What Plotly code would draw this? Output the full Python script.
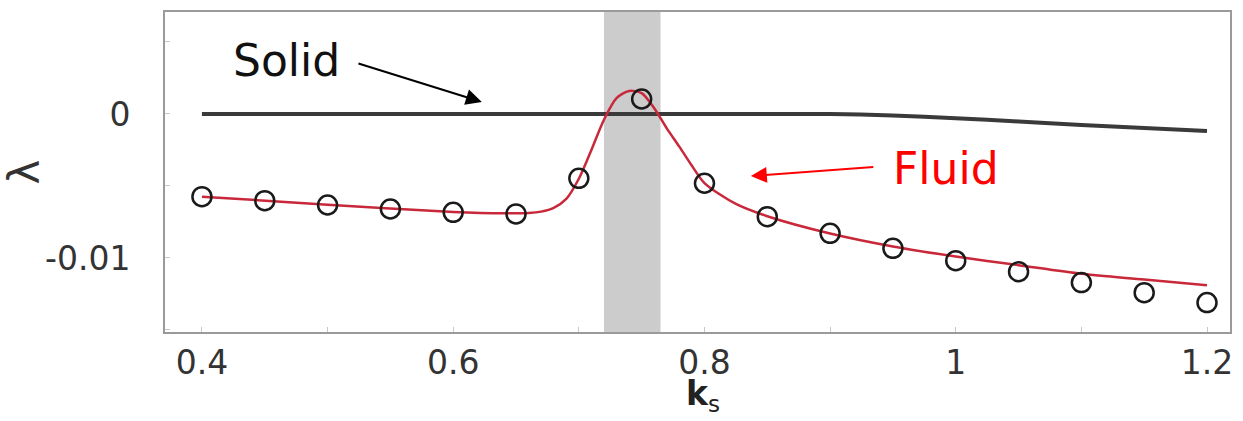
import plotly.graph_objects as go

# Growth rate lambda versus wavenumber k_s
k_sim = [0.40, 0.45, 0.50, 0.55, 0.60, 0.65, 0.70, 0.75, 0.80, 0.85,
         0.90, 0.95, 1.00, 1.05, 1.10, 1.15, 1.20]
lam_sim = [-0.00574, -0.00602, -0.00632, -0.00660, -0.00683, -0.00694,
           -0.00447, 0.00104, -0.00481, -0.00713, -0.00829, -0.00933,
           -0.01019, -0.01095, -0.01171, -0.01241, -0.01310]

# Fluid mode (theory curve)
k_fluid = [0.40, 0.50, 0.60, 0.64, 0.66, 0.67, 0.68, 0.69, 0.70, 0.71,
           0.72, 0.73, 0.74, 0.75, 0.76, 0.77, 0.78, 0.79, 0.80, 0.825,
           0.85, 0.90, 0.95, 1.00, 1.05, 1.10, 1.15, 1.20]
lam_fluid = [-0.00574, -0.00630, -0.00680, -0.00690, -0.00688, -0.00678,
             -0.00652, -0.00590, -0.00450, -0.00250, -0.00040, 0.00110,
             0.00160, 0.00145, 0.00040, -0.00100, -0.00227, -0.00360,
             -0.00480, -0.00625, -0.00710, -0.00830, -0.00920, -0.00990,
             -0.01050, -0.01110, -0.01150, -0.01190]

# Solid mode
k_solid = [0.40, 0.60, 0.80, 0.90, 0.95, 1.00, 1.05, 1.10, 1.15, 1.20]
lam_solid = [0.0, 0.0, 0.0, 0.0, -0.00010, -0.00030, -0.00052, -0.00076,
             -0.00097, -0.00118]

# Shaded resonance band
band = [0.720, 0.765]

x_ticks = [0.4, 0.6, 0.8, 1.0, 1.2]
x_tick_text = ["0.4", "0.6", "0.8", "1", "1.2"]
y_ticks = [0.0, -0.01]
y_tick_text = ["0", "-0.01"]

FONT = "DejaVu Sans"

fig = go.Figure()

fig.add_vrect(x0=band[0], x1=band[1], fillcolor="#cccccc", opacity=1,
              line_width=0, layer="below")

fig.add_trace(go.Scatter(x=k_solid, y=lam_solid, mode="lines",
                         line=dict(color="#3a3a3a", width=4,
                                   shape="spline", smoothing=0.6),
                         showlegend=False))
fig.add_trace(go.Scatter(x=k_fluid, y=lam_fluid, mode="lines",
                         line=dict(color="#c8283a", width=2.5,
                                   shape="spline", smoothing=0.8),
                         showlegend=False))
fig.add_trace(go.Scatter(x=k_sim, y=lam_sim, mode="markers",
                         marker=dict(symbol="circle-open", size=19,
                                     color="#1a1a1a", line=dict(width=2.5)),
                         showlegend=False))

fig.add_annotation(x=0.4677, y=0.00368, text="Solid", showarrow=False,
                   font=dict(family=FONT, size=44, color="#111111"))
fig.add_annotation(x=0.6228, y=0.00083, ax=0.5234, ay=0.00354,
                   axref="x", ayref="y", text="", showarrow=True,
                   arrowhead=2, arrowsize=1.6, arrowwidth=2,
                   arrowcolor="#000000", standoff=0)
fig.add_annotation(x=0.9921, y=-0.00382, text="Fluid", showarrow=False,
                   font=dict(family=FONT, size=44, color="#ff0000"))
fig.add_annotation(x=0.8369, y=-0.00431, ax=0.9356, ay=-0.00368,
                   axref="x", ayref="y", text="", showarrow=True,
                   arrowhead=2, arrowsize=1.6, arrowwidth=2,
                   arrowcolor="#ff0000", standoff=0)

# x-axis title placed below the tick labels
fig.add_annotation(xref="paper", yref="paper", x=0.505, y=-0.126,
                   yanchor="top", text="<b>k</b><sub>s</sub>",
                   showarrow=False,
                   font=dict(family=FONT, size=33, color="#222222"))

axis_common = dict(showline=True, linecolor="#9a9a9a", linewidth=2,
                   mirror=True, showgrid=False, zeroline=False,
                   automargin=False, ticks="",
                   tickfont=dict(family=FONT, size=33, color="#333333"))

fig.update_xaxes(range=[0.3706, 1.2183], tickvals=x_ticks,
                 ticktext=x_tick_text,
                 minor=dict(dtick=0.1, tick0=0.4, ticks="inside", ticklen=5,
                            tickcolor="#c8c8c8"),
                 **axis_common)
fig.update_yaxes(range=[-0.01514, 0.00708], tickvals=y_ticks,
                 ticktext=y_tick_text, ticklabelstandoff=26,
                 minor=dict(dtick=0.005, tick0=0, ticks="inside", ticklen=5,
                            tickcolor="#c8c8c8"),
                 title=dict(text="λ", standoff=10,
                            font=dict(family=FONT, size=42,
                                      color="#333333")),
                 **axis_common)

fig.update_layout(width=1243, height=421,
                  margin=dict(l=165, r=13, t=12, b=89),
                  plot_bgcolor="white", paper_bgcolor="white")

fig.write_html("out.html")
